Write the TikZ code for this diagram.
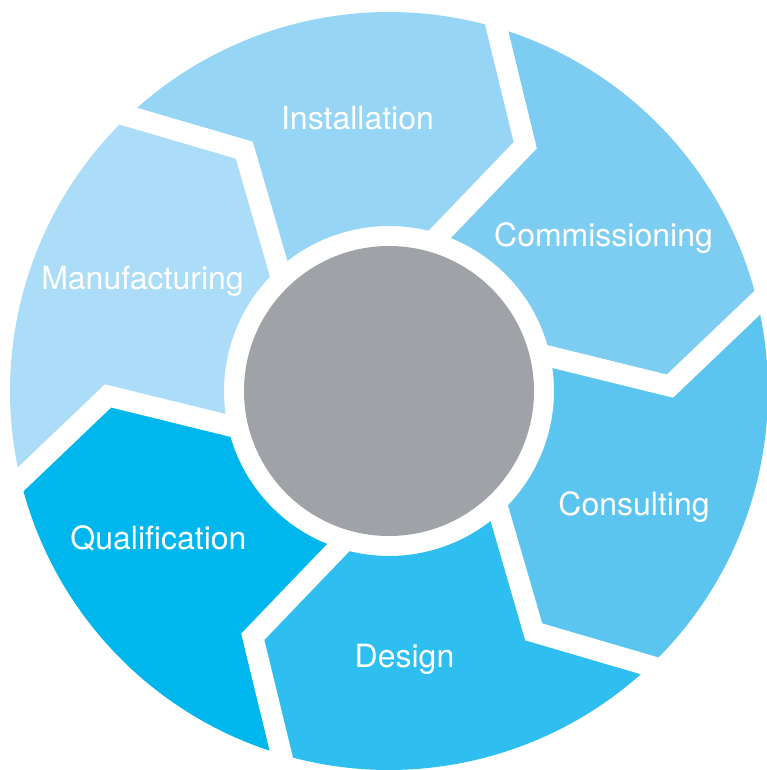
\documentclass[tikz,border=0pt]{standalone}
\usepackage{xcolor}
\usepackage{fontspec}
\setmainfont{TeX Gyre Heros}
\usepackage{tikz}
\usetikzlibrary{calc}

\definecolor{commis}{RGB}{125,205,243}
\definecolor{install}{RGB}{150,213,245}
\definecolor{manuf}{RGB}{171,221,248}
\definecolor{qualif}{RGB}{0,183,237}
\definecolor{design}{RGB}{46,190,239}
\definecolor{consult}{RGB}{91,197,240}
\definecolor{hubgray}{RGB}{159,163,167}

\tikzset{
  steplabel/.style={text=white,anchor=base,inner sep=0pt,font=\fontsize{32}{36}\selectfont},
  gapline/.style={draw=white,line width=21pt},
}

\begin{document}
\begin{tikzpicture}[x=1pt,y=1pt]
\useasboundingbox (-389,-379) rectangle (377,391);

\foreach \t/\c in {13.5/commis,73.5/install,133.5/manuf,193.5/qualif,253.5/design,313.5/consult}
  \fill[\c] (\t:379) -- (\t-12.5:281) -- (\t-1.5:165) arc[start angle=\t-1.5, delta angle=60, radius=165]
    -- (\t+47.5:281) -- (\t+60:379) arc[start angle=\t+60, delta angle=-60, radius=379] -- cycle;

\foreach \t in {13.5,73.5,133.5,193.5,253.5,313.5}
  \draw[gapline] ($(\t-12.5:281)!1.2!(\t:379)$) -- (\t-12.5:281) -- ($(\t-12.5:281)!1.15!(\t-1.5:165)$);

\node[circle,fill=hubgray,minimum size=290pt,inner sep=0pt] (hub) at (0,0) {};

\node[steplabel] (installation) at (-31.5,261) {Installation};
\node[steplabel] (commissioning) at (214.5,144) {Commissioning};
\node[steplabel] (manufacturing) at (-246.5,101) {Manufacturing};
\node[steplabel] (qualification) at (-230.5,-158) {Qualification};
\node[steplabel] (consulting) at (245,-124) {Consulting};
\node[steplabel] (design) at (15.5,-276) {Design};
\end{tikzpicture}
\end{document}
